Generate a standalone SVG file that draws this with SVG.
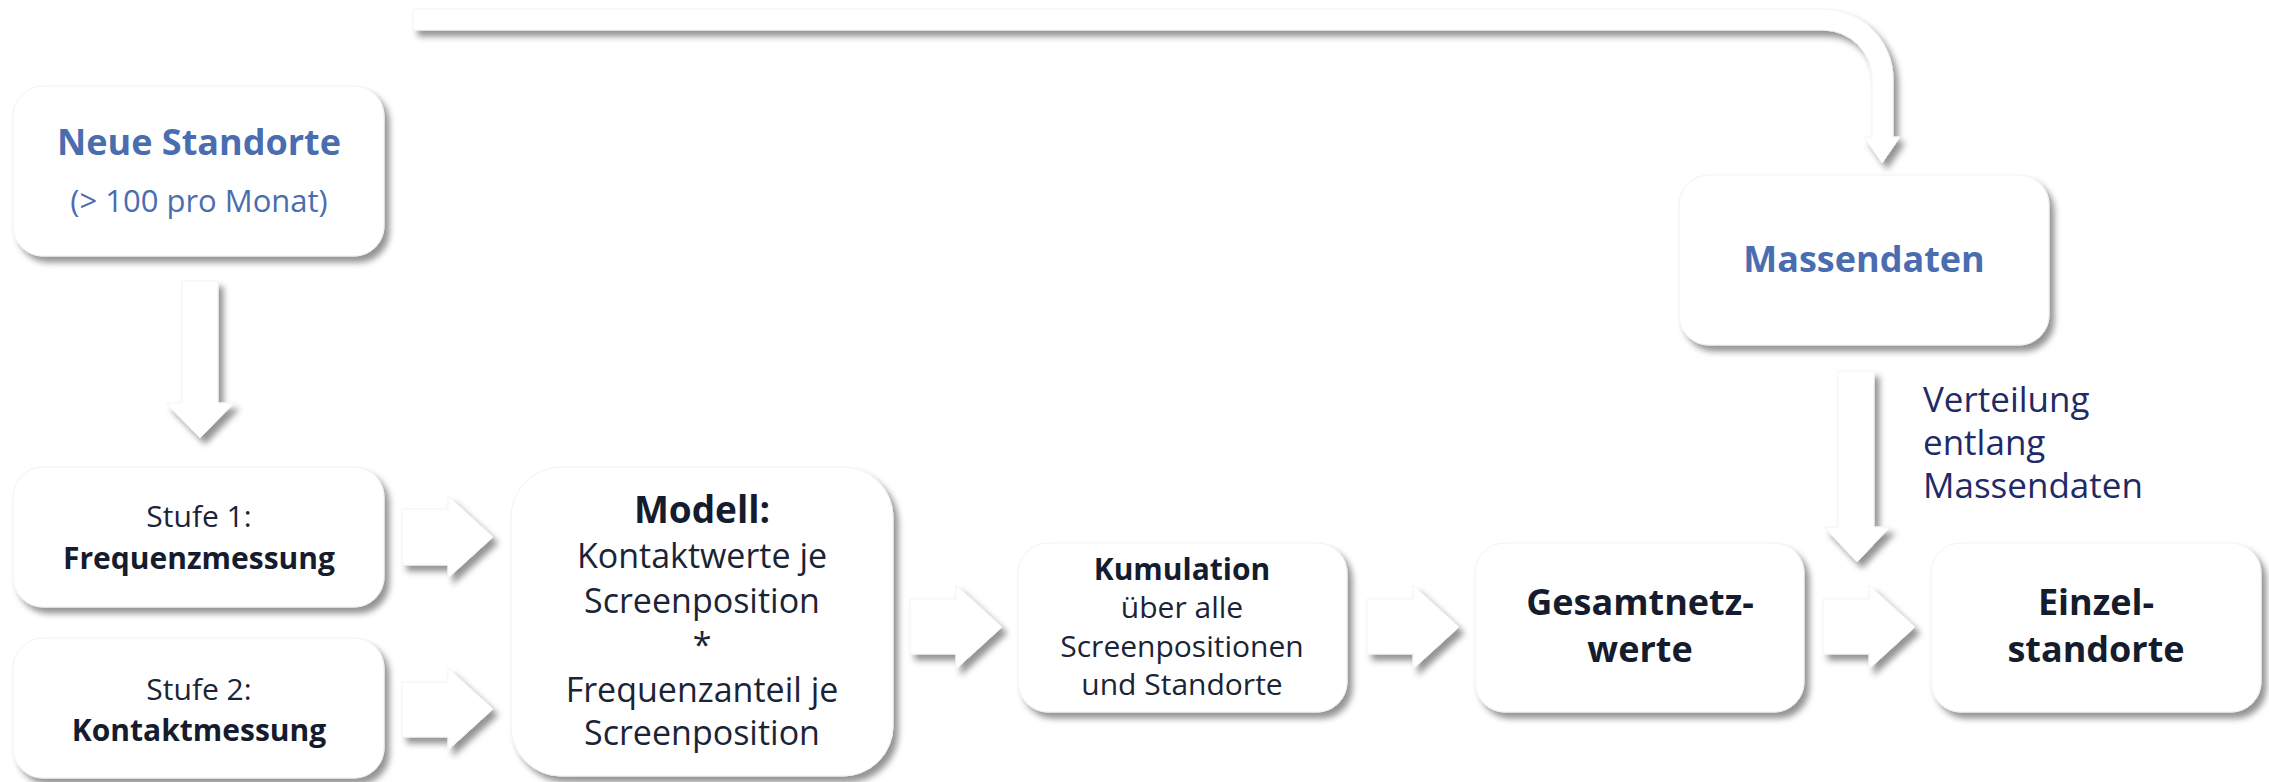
<svg xmlns="http://www.w3.org/2000/svg" width="2269" height="782" viewBox="0 0 2269 782">
<defs>
<filter id="sh" x="-20%" y="-20%" width="140%" height="150%">
<feDropShadow dx="5" dy="6" stdDeviation="3" flood-color="#000" flood-opacity="0.42"/>
</filter>
<style>
.box{fill:#fff;stroke:#f1f1f1;stroke-width:1;filter:url(#sh)}
.arr{fill:#fff;stroke:#f3f3f3;stroke-width:1;filter:url(#sh)}
text{font-family:"Open Sans","Liberation Sans",sans-serif;text-anchor:middle}
.b{font-weight:700;fill:#141c2e}
.r{font-weight:400;fill:#1b2336}
.blue{font-weight:700;fill:#4a6db0}
.blr{font-weight:400;fill:#4a6db0}
.lbl{font-weight:400;fill:#1f2a66;text-anchor:start}
</style>
</defs>
<rect width="2269" height="782" fill="#fff"/>
<g id="connectors">
<path class="arr" d="M413 9 H1823 A70 70 0 0 1 1893 79 V137 H1900 L1882 163 L1864 137 H1872 V79 A49 49 0 0 0 1823 30 H413 Z"/>
<path class="arr" d="M182 281 H218 V403 H234 L200 438 L166 403 H182 Z"/>
<path class="arr" d="M402 509 H448 V496 L493 537 L448 578 V565 H402 Z"/>
<path class="arr" d="M402 682 H448 V668 L493 709 L448 750 V737 H402 Z"/>
<path class="arr" d="M910 599 H956 V585 L1002 627 L956 669 V654 H910 Z"/>
<path class="arr" d="M1367 599 H1413 V585 L1459 627 L1413 669 V654 H1367 Z"/>
<path class="arr" d="M1823 599 H1869 V585 L1915 627 L1869 669 V654 H1823 Z"/>
<path class="arr" d="M1838 371 H1874 V527 H1890 L1857 562 L1824 527 H1838 Z"/>
<text class="lbl" font-size="35" x="1923" y="412">Verteilung</text>
<text class="lbl" font-size="35" x="1923" y="455">entlang</text>
<text class="lbl" font-size="35" x="1923" y="498">Massendaten</text>
</g>
<g id="neue-standorte">
<rect class="box" x="13" y="86" width="371" height="170" rx="30"/>
<text class="blue" font-size="36" x="199" y="155">Neue Standorte</text>
<text class="blr" font-size="31" x="199" y="212">(&gt; 100 pro Monat)</text>
</g>
<g id="massendaten">
<rect class="box" x="1679" y="175" width="370" height="170" rx="30"/>
<text class="blue" font-size="36" x="1864" y="272">Massendaten</text>
</g>
<g id="stufe1">
<rect class="box" x="13" y="467" width="371" height="140" rx="30"/>
<text class="r" font-size="30" x="199" y="527">Stufe 1:</text>
<text class="b" font-size="30" x="199" y="569">Frequenzmessung</text>
</g>
<g id="stufe2">
<rect class="box" x="13" y="638" width="371" height="140" rx="30"/>
<text class="r" font-size="30" x="199" y="700">Stufe 2:</text>
<text class="b" font-size="30" x="199" y="741">Kontaktmessung</text>
</g>
<g id="modell">
<rect class="box" x="511" y="467" width="382" height="309" rx="50"/>
<text class="b" font-size="37" x="702" y="523">Modell:</text>
<text class="r" font-size="34" x="702" y="568">Kontaktwerte je</text>
<text class="r" font-size="34" x="702" y="613">Screenposition</text>
<text class="r" font-size="34" x="702" y="657">*</text>
<text class="r" font-size="34" x="702" y="702">Frequenzanteil je</text>
<text class="r" font-size="34" x="702" y="745">Screenposition</text>
</g>
<g id="kumulation">
<rect class="box" x="1018" y="543" width="329" height="169" rx="30"/>
<text class="b" font-size="30" x="1182" y="580">Kumulation</text>
<text class="r" font-size="30" x="1182" y="618">über alle</text>
<text class="r" font-size="30" x="1182" y="657">Screenpositionen</text>
<text class="r" font-size="30" x="1182" y="695">und Standorte</text>
</g>
<g id="gesamtnetzwerte">
<rect class="box" x="1475" y="543" width="329" height="169" rx="30"/>
<text class="b" font-size="36" x="1640" y="615">Gesamtnetz-</text>
<text class="b" font-size="36" x="1640" y="662">werte</text>
</g>
<g id="einzelstandorte">
<rect class="box" x="1931" y="543" width="330" height="169" rx="30"/>
<text class="b" font-size="36" x="2096" y="615">Einzel-</text>
<text class="b" font-size="36" x="2096" y="662">standorte</text>
</g>
</svg>
